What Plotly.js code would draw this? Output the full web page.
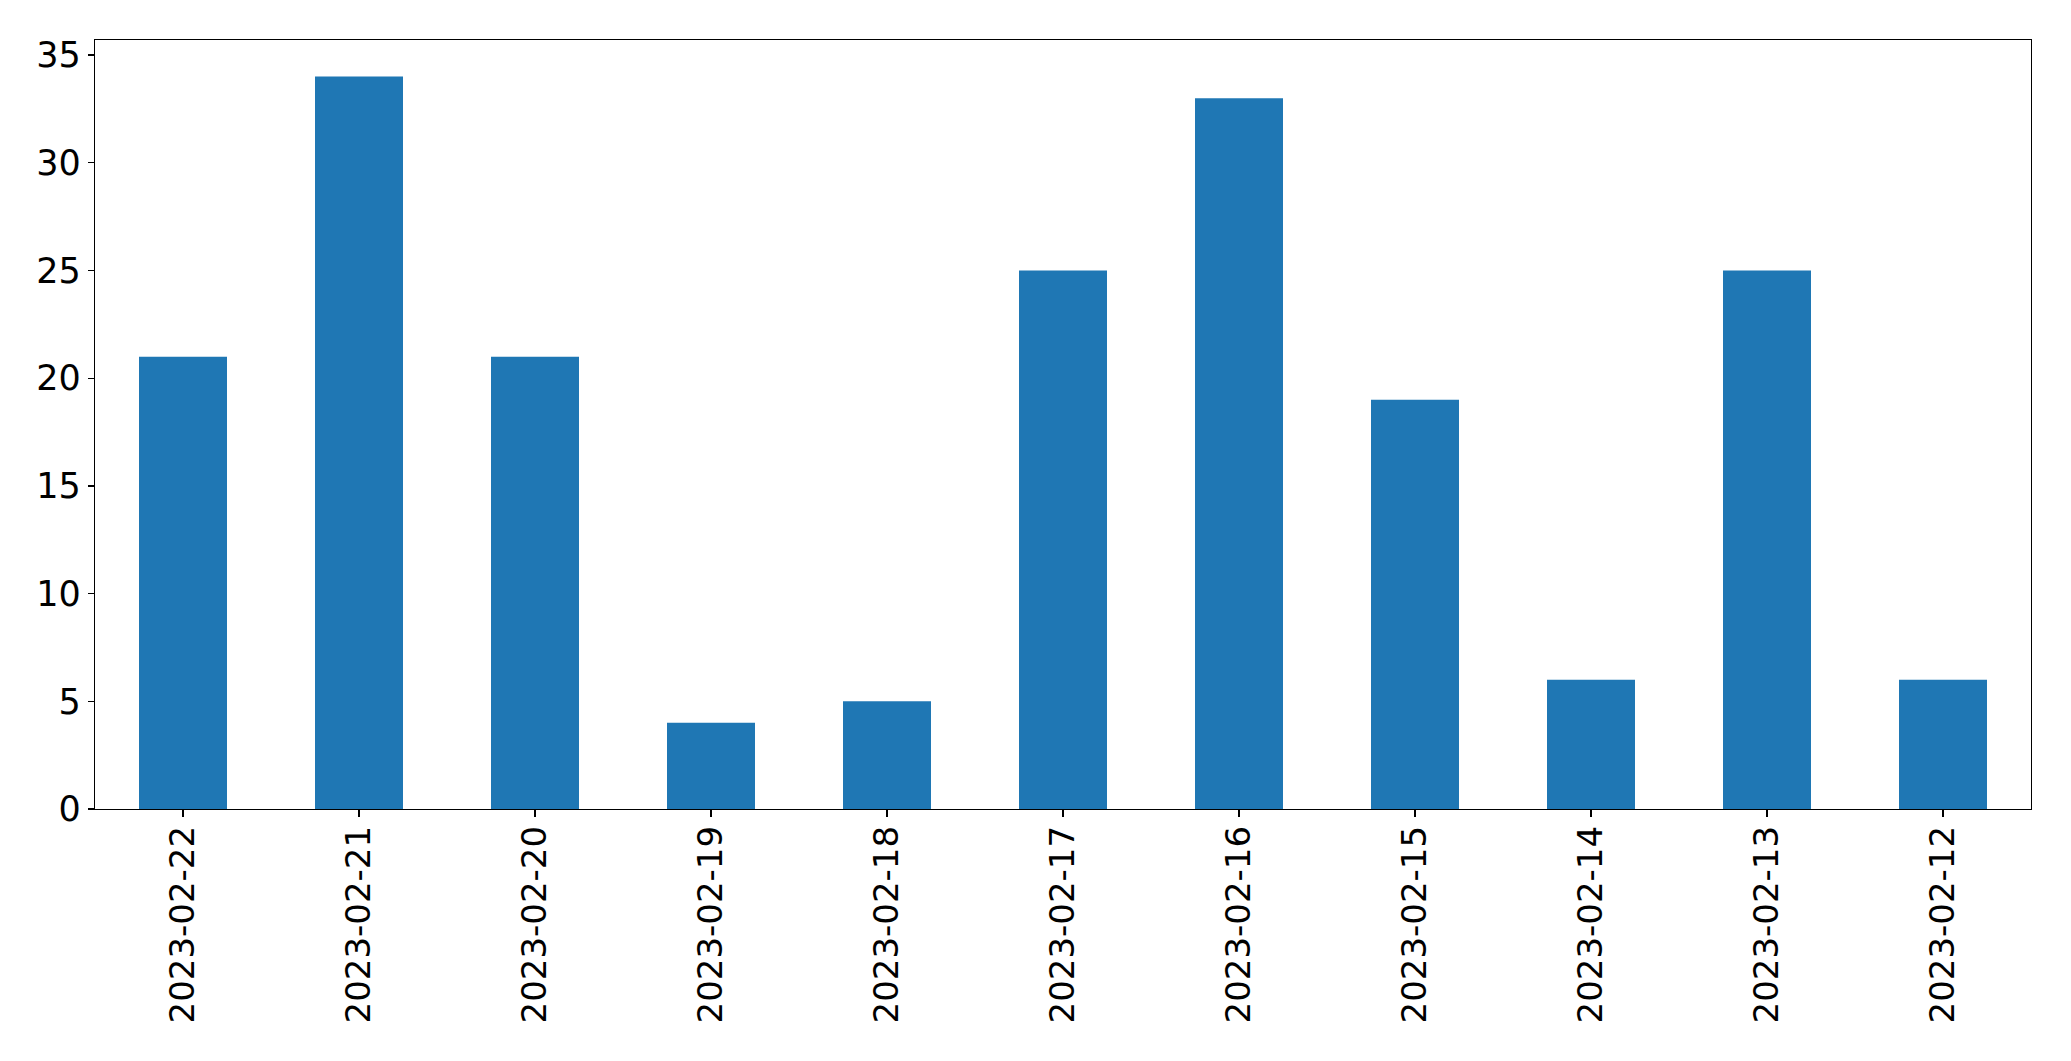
<!DOCTYPE html>
<html>
<head>
<meta charset="utf-8">
<script src="https://cdn.plot.ly/plotly-3.0.1.min.js"></script>
<style>html,body{margin:0;padding:0;background:#fff;}#chart{width:2071px;height:1061px;}</style>
</head>
<body>
<div id="chart"></div>
<script>
const dates = ["2023-02-22","2023-02-21","2023-02-20","2023-02-19","2023-02-18","2023-02-17","2023-02-16","2023-02-15","2023-02-14","2023-02-13","2023-02-12"];
const counts = [21, 34, 21, 4, 5, 25, 33, 19, 6, 25, 6];
const yTicks = [0, 5, 10, 15, 20, 25, 30, 35];

const trace = {
  type: 'bar',
  x: dates,
  y: counts,
  marker: {color: '#1f77b4', line: {width: 0}},
  hoverinfo: 'x+y'
};

const layout = {
  width: 2071,
  height: 1061,
  paper_bgcolor: '#ffffff',
  plot_bgcolor: '#ffffff',
  margin: {l: 95, r: 40, t: 40, b: 252, pad: 0},
  bargap: 0.5,
  showlegend: false,
  font: {family: 'DejaVu Sans', size: 34, color: '#000000'},
  xaxis: {
    type: 'category',
    range: [-0.5, dates.length - 0.5],
    tickangle: -90,
    ticks: 'outside',
    ticklen: 7,
    tickwidth: 1.3,
    tickcolor: '#000',
    ticklabelstandoff: -5,
    showline: true,
    linecolor: '#000',
    linewidth: 1.3,
    mirror: true,
    showgrid: false,
    zeroline: false,
    tickfont: {family: 'DejaVu Sans', size: 34, color: '#000'}
  },
  yaxis: {
    range: [0, Math.max(...counts) * 1.05],
    tickvals: yTicks,
    ticktext: yTicks.map(String),
    ticks: 'outside',
    ticklen: 6,
    tickwidth: 1.3,
    tickcolor: '#000',
    showline: true,
    linecolor: '#000',
    linewidth: 1.3,
    mirror: true,
    showgrid: false,
    zeroline: false,
    tickfont: {family: 'DejaVu Sans', size: 35, color: '#000'}
  }
};

Plotly.newPlot('chart', [trace], layout, {displayModeBar: false, staticPlot: true});
</script>
</body>
</html>
